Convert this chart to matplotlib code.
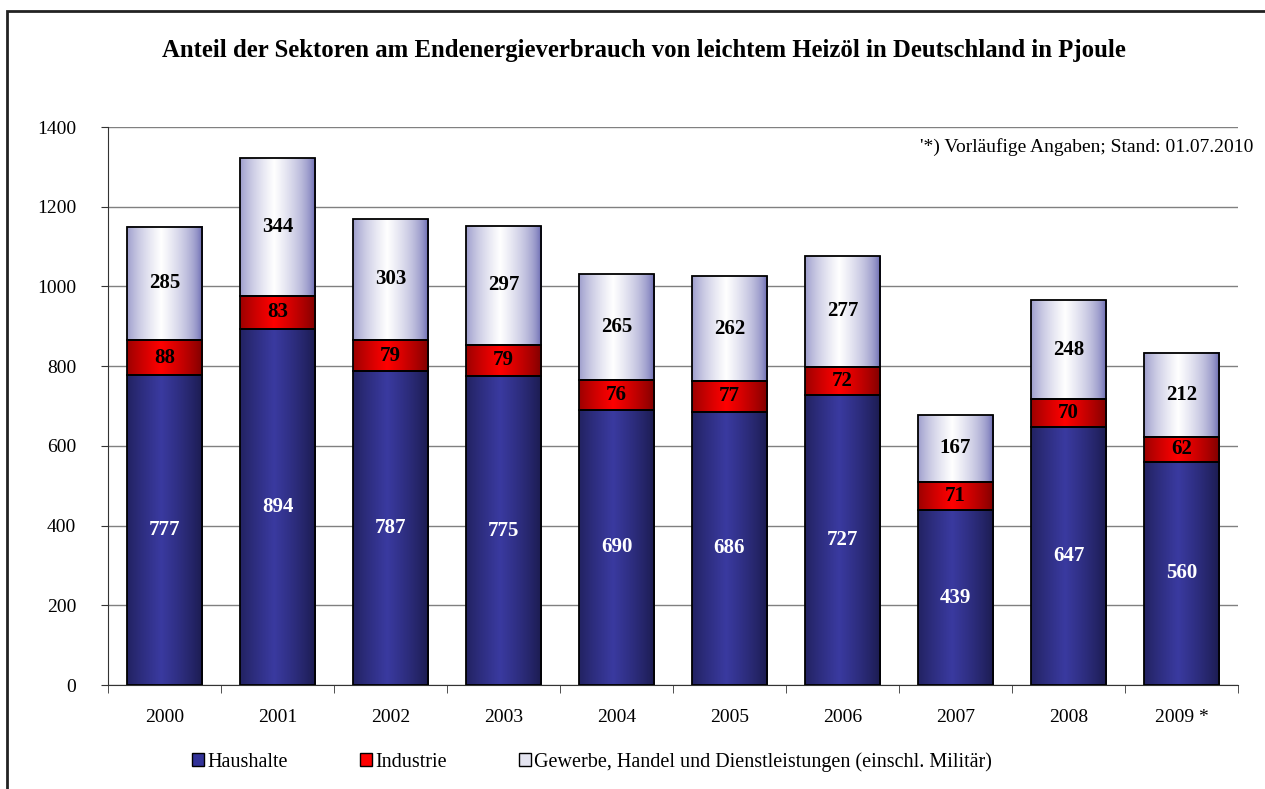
import numpy as np
import matplotlib
matplotlib.use("Agg")
import matplotlib.pyplot as plt
from matplotlib.patches import Rectangle, Patch

plt.rcParams['font.family'] = ['Liberation Serif', 'DejaVu Serif']

years = ["2000", "2001", "2002", "2003", "2004", "2005", "2006", "2007", "2008", "2009 *"]
haushalte = [777, 894, 787, 775, 690, 686, 727, 439, 647, 560]
industrie = [88, 83, 79, 79, 76, 77, 72, 71, 70, 62]
gewerbe = [285, 344, 303, 297, 265, 262, 277, 167, 248, 212]

series = [
    ("Haushalte", haushalte, "#1a1a4c", "#3a3aa0", "white", 0.8),
    ("Industrie", industrie, "#7a0000", "#ff0000", "black", 0.8),
    ("Gewerbe, Handel und Dienstleistungen (einschl. Militär)", gewerbe, "#4848a0", "#ffffff", "black", 0.45),
]

fig = plt.figure(figsize=(12.65, 7.89), dpi=100)
ax = fig.add_axes([108 / 1265, 104 / 789, 1130 / 1265, 558 / 789])

# figure frame
fig.patches.append(Rectangle((7 / 1265, -0.1), 1.2, 1 - 11 / 789 + 0.1, transform=fig.transFigure,
                             fill=False, edgecolor="#222222", linewidth=2))


def gradient(edge, center, power, n=200):
    t = np.linspace(0, 1, n)
    s = np.clip(1 - np.abs(t - 0.45) / 0.55, 0, 1) ** power
    e = np.array(matplotlib.colors.to_rgb(edge))
    c = np.array(matplotlib.colors.to_rgb(center))
    return (e[None, :] + (c - e)[None, :] * s[:, None])[None, :, :]


x = np.arange(len(years))
width = 0.67
bottom = np.zeros(len(years))
for name, vals, edge, center, tcol, pw in series:
    img = gradient(edge, center, pw)
    for i, v in enumerate(vals):
        x0, x1 = x[i] - width / 2, x[i] + width / 2
        ax.imshow(img, extent=(x0, x1, bottom[i], bottom[i] + v), aspect="auto",
                  interpolation="bilinear", zorder=2)
        ax.add_patch(Rectangle((x0, bottom[i]), width, v, fill=False,
                               edgecolor="black", linewidth=1.3, zorder=3))
        ax.text(x[i], bottom[i] + v / 2, str(v), ha="center", va="center",
                color=tcol, fontsize=15, fontweight="bold", zorder=4)
    bottom += np.array(vals)

ax.set_xlim(-0.5, len(years) - 0.5)
ax.set_ylim(0, 1400)
ax.set_yticks(range(0, 1401, 200))
ax.yaxis.grid(True, color="#808080", linewidth=1)
ax.set_axisbelow(True)
ax.tick_params(axis="y", length=5, labelsize=14, pad=18, color="#333333")
ax.set_xticks(x)
ax.set_xticklabels(years, fontsize=14)
ax.tick_params(axis="x", which="major", length=0, pad=17)
ax.set_xticks(np.arange(-0.5, len(years)), minor=True)
ax.tick_params(axis="x", which="minor", length=6, color="#333333")
for s in ["top", "right"]:
    ax.spines[s].set_visible(False)
ax.spines["left"].set_color("#333333")
ax.spines["bottom"].set_color("#333333")

fig.text(644 / 1265, 1 - 50 / 789, "Anteil der Sektoren am Endenergieverbrauch von leichtem Heizöl in Deutschland in Pjoule",
         ha="center", va="center", fontsize=17.8, fontweight="bold")
fig.text(1253 / 1265, 1 - 147 / 789, "'*) Vorläufige Angaben; Stand: 01.07.2010",
         ha="right", va="center", fontsize=14)

handles = [Patch(facecolor="#333399", edgecolor="black"),
           Patch(facecolor="#ff0000", edgecolor="black"),
           Patch(facecolor="#e4e4f0", edgecolor="black")]
fig.legend(handles, [s[0] for s in series], loc="center", bbox_to_anchor=(592 / 1265, 1 - 762 / 789),
           ncol=3, frameon=False, fontsize=14.5, handlelength=0.6, handleheight=0.6,
           handletextpad=0.15, columnspacing=3.6)

fig.savefig("out.png", dpi=100)
